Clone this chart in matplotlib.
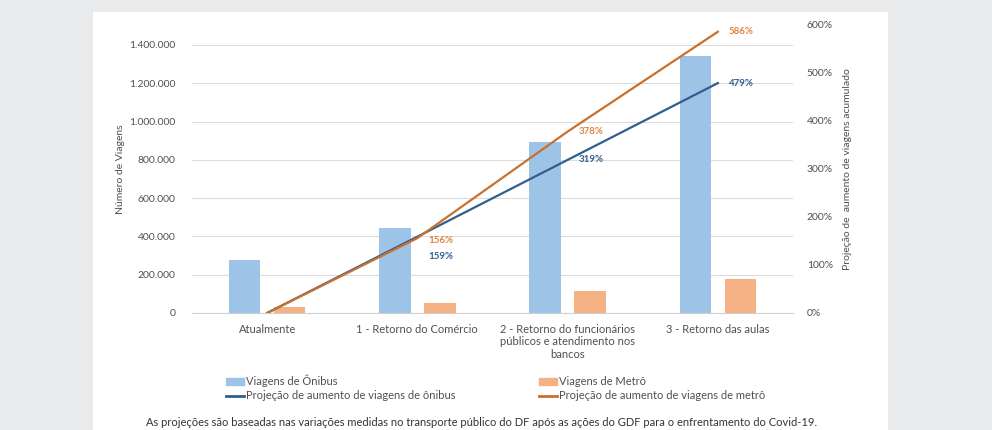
import numpy as np
import matplotlib
matplotlib.use("Agg")
import matplotlib.pyplot as plt
from matplotlib.ticker import FuncFormatter, MultipleLocator
from matplotlib.patches import Rectangle
from matplotlib.lines import Line2D

plt.rcParams['font.family'] = ['Lato', 'DejaVu Sans']

categorias = ["Atualmente", "1 - Retorno do Comércio",
              "2 - Retorno do funcionários\npúblicos e atendimento nos\nbancos",
              "3 - Retorno das aulas"]
viagens_onibus = [278000, 444000, 893000, 1342000]
viagens_metro = [31000, 52000, 115000, 178000]
proj_onibus = [0, 1.59, 3.19, 4.79]
proj_metro = [0, 1.56, 3.78, 5.86]
rotulos_onibus = ["", "159%", "319%", "479%"]
rotulos_metro = ["", "156%", "378%", "586%"]

c_bus_bar = "#9dc3e6"
c_met_bar = "#f4b183"
c_bus_line = "#2f5f8f"
c_met_line = "#c8702e"
txt = "#505050"

fig = plt.figure(figsize=(9.92, 4.30), dpi=100)
fig.patch.set_facecolor("#e8eaeb")
# painel branco
fig.add_artist(Rectangle((93 / 992, 0), (888 - 93) / 992, 1 - 12 / 430,
                         transform=fig.transFigure, facecolor="white",
                         edgecolor="none", zorder=0))

ax = fig.add_axes([192 / 992, 1 - 313 / 430, (793 - 192) / 992, (313 - 25) / 430])
ax.set_facecolor("none")
x = np.arange(len(categorias))
w = 0.21
ax.bar(x - 0.15, viagens_onibus, w, color=c_bus_bar, zorder=2)
ax.bar(x + 0.15, viagens_metro, w, color=c_met_bar, zorder=2)
ax.set_xlim(-0.5, len(categorias) - 0.5)
ax.set_ylim(0, 1.504e6)
ax.yaxis.set_major_locator(MultipleLocator(200000))
ax.yaxis.set_major_formatter(FuncFormatter(lambda v, p: f"{int(v):,}".replace(",", ".")))
ax.grid(axis="y", color="#dcdcdc", linewidth=0.8, zorder=0)
ax.set_axisbelow(True)
for s in ["top", "right", "left"]:
    ax.spines[s].set_visible(False)
ax.spines["bottom"].set_color("#d0d0d0")
ax.set_xticks(x)
ax.set_xticklabels(categorias, fontsize=8, color=txt, linespacing=1.15)
ax.tick_params(axis="x", length=0, pad=8)
ax.tick_params(axis="y", length=0, pad=12, labelsize=7.5, labelcolor=txt)
ax.set_ylabel("Número de Viagens", fontsize=7.5, color=txt, labelpad=3)

ax2 = ax.twinx()
ax2.plot(x, proj_onibus, color=c_bus_line, linewidth=1.6, zorder=3)
ax2.plot(x, proj_metro, color=c_met_line, linewidth=1.6, zorder=3)
ax2.set_ylim(0, 6)
ax2.yaxis.set_major_locator(MultipleLocator(1))
ax2.yaxis.set_major_formatter(FuncFormatter(lambda v, p: f"{int(round(v * 100))}%"))
for s in ax2.spines.values():
    s.set_visible(False)
ax2.tick_params(axis="y", length=0, pad=10, labelsize=7.5, labelcolor=txt)
ax2.set_ylabel("Projeção de  aumento de viagens acumulado", fontsize=7.5,
               color=txt, labelpad=7)

for i in range(1, len(categorias)):
    if i == 1:
        off_m, off_b = (8, -2), (8, -14)
    else:
        off_m, off_b = (8, 0), (8, 0)
    ax2.annotate(rotulos_metro[i], (x[i], proj_metro[i]), xytext=off_m,
                 textcoords="offset points", color="#e0823e", fontsize=7,
                 fontweight="bold", va="center", ha="left")
    ax2.annotate(rotulos_onibus[i], (x[i], proj_onibus[i]), xytext=off_b,
                 textcoords="offset points", color=c_bus_line, fontsize=7,
                 fontweight="bold", va="center", ha="left")

handles = [Rectangle((0, 0), 1, 1, color=c_bus_bar),
           Line2D([0], [0], color=c_bus_line, linewidth=2),
           Rectangle((0, 0), 1, 1, color=c_met_bar),
           Line2D([0], [0], color=c_met_line, linewidth=2)]
labels = ["Viagens de Ônibus", "Projeção de aumento de viagens de ônibus",
          "Viagens de Metrô", "Projeção de aumento de viagens de metrô"]
leg = fig.legend(handles, labels, ncol=2, loc="center left",
                 bbox_to_anchor=(216 / 992, 1 - 388 / 430), frameon=False,
                 fontsize=8, handlelength=1.6, handleheight=0.6,
                 handletextpad=0.2, columnspacing=7.5, labelspacing=0.3)
for t in leg.get_texts():
    t.set_color(txt)

fig.text(482 / 992, 1 - 422 / 430,
         "As projeções são baseadas nas variações medidas no transporte público do DF "
         "após as ações do GDF para o enfrentamento do Covid-19.",
         ha="center", va="center", fontsize=8, color="#333333")

fig.savefig("out.png", dpi=100, facecolor=fig.get_facecolor())
